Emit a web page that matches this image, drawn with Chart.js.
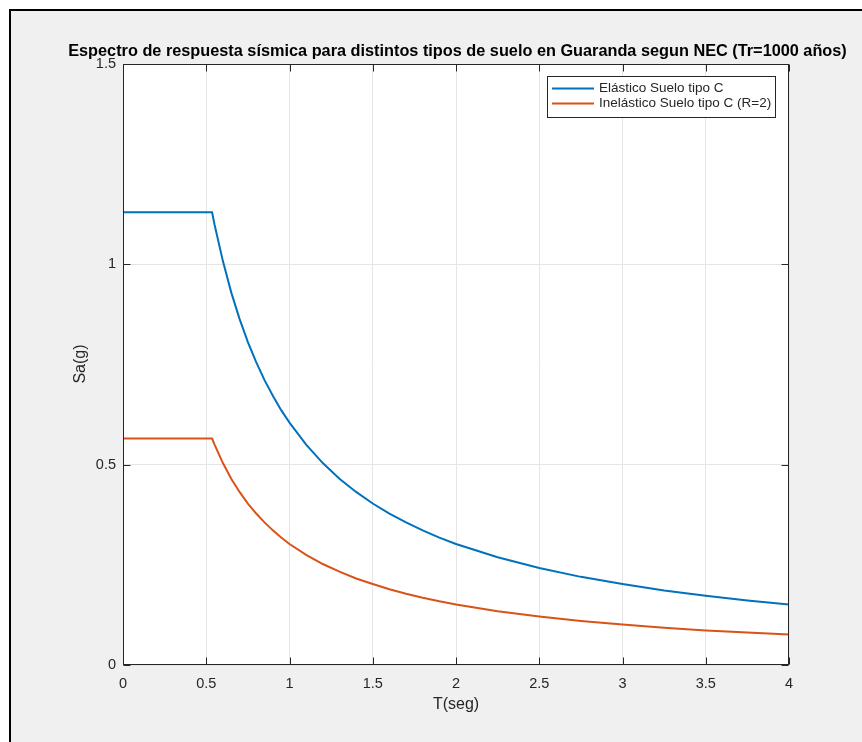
<!DOCTYPE html>
<html>
<head>
<meta charset="utf-8">
<script src="https://cdn.jsdelivr.net/npm/chart.js@4/dist/chart.umd.min.js"></script>
<style>
  html, body { margin: 0; padding: 0; background: #ffffff; }
  #frame { position: absolute; left: 9px; top: 9px; width: 851px; height: 731px;
           border-left: 2px solid #000; border-top: 2px solid #000; background: #f0f0f0; }
  #wrap { position: absolute; left: 0; top: 0; width: 862px; height: 742px; }
</style>
</head>
<body>
<div id="frame"></div>
<div id="wrap"><canvas id="c" width="862" height="742"></canvas></div>
<script>
// ---- Data ----
const titleText = 'Espectro de respuesta sísmica para distintos tipos de suelo en Guaranda segun NEC (Tr=1000 años)';
const xLabel = 'T(seg)';
const yLabel = 'Sa(g)';
const seriesNames = ['Elástico Suelo tipo C', 'Inelástico Suelo tipo C (R=2)'];
const periods = [0, 0.535, 0.55, 0.60, 0.65, 0.70, 0.75, 0.80, 0.85, 0.90, 0.95, 1.00,
                 1.1, 1.2, 1.3, 1.4, 1.5, 1.6, 1.7, 1.8, 1.9, 2.0,
                 2.25, 2.5, 2.75, 3.0, 3.25, 3.5, 3.75, 4.0];
const elastic = [1.13, 1.13, 1.099, 1.008, 0.930, 0.864, 0.806, 0.756, 0.711, 0.672, 0.636, 0.605,
                 0.550, 0.504, 0.465, 0.432, 0.403, 0.378, 0.356, 0.336, 0.318, 0.302,
                 0.269, 0.242, 0.220, 0.202, 0.186, 0.173, 0.161, 0.151];
const inelastic = [0.565, 0.565, 0.550, 0.504, 0.465, 0.432, 0.403, 0.378, 0.356, 0.336, 0.318, 0.302,
                   0.275, 0.252, 0.233, 0.216, 0.202, 0.189, 0.178, 0.168, 0.159, 0.151,
                   0.134, 0.121, 0.110, 0.101, 0.093, 0.086, 0.081, 0.076];
const xTicks = [0, 0.5, 1, 1.5, 2, 2.5, 3, 3.5, 4];
const yTicks = [0, 0.5, 1, 1.5];
const colors = ['#0072BD', '#D95319'];

const FONT = '"Liberation Sans", Arial, sans-serif';
const AX = '#262626';

const frameAndLegend = {
  id: 'frameAndLegend',
  beforeDraw(chart) {
    const {ctx, chartArea: a} = chart;
    ctx.save();
    ctx.fillStyle = '#ffffff';
    ctx.fillRect(a.left, a.top, a.right - a.left, a.bottom - a.top);
    ctx.restore();
  },
  afterDraw(chart) {
    const {ctx, chartArea: a, scales} = chart;
    ctx.save();
    // axes box
    ctx.strokeStyle = AX;
    ctx.lineWidth = 1;
    const L = Math.round(a.left) + 0.5, R = Math.round(a.right) - 0.5;
    const T = Math.round(a.top) + 0.5, B = Math.round(a.bottom) - 0.5;
    ctx.strokeRect(L, T, R - L, B - T);
    // inward ticks
    ctx.beginPath();
    xTicks.forEach(v => {
      const px = Math.round(scales.x.getPixelForValue(v)) + 0.5;
      ctx.moveTo(px, B); ctx.lineTo(px, B - 7);
      ctx.moveTo(px, T); ctx.lineTo(px, T + 7);
    });
    yTicks.forEach(v => {
      const py = Math.round(scales.y.getPixelForValue(v)) + 0.5;
      ctx.moveTo(L, py); ctx.lineTo(L + 7, py);
      ctx.moveTo(R, py); ctx.lineTo(R - 7, py);
    });
    ctx.stroke();
    // title
    ctx.fillStyle = '#000';
    ctx.font = 'bold 16.3px ' + FONT;
    ctx.textAlign = 'center';
    ctx.textBaseline = 'alphabetic';
    ctx.fillText(titleText, 457.5, 56);
    // axis labels
    ctx.fillStyle = AX;
    ctx.font = '16px ' + FONT;
    ctx.textBaseline = 'middle';
    ctx.fillText(xLabel, (a.left + a.right) / 2, 705);
    ctx.save();
    ctx.translate(81, 364);
    ctx.rotate(-Math.PI / 2);
    ctx.fillText(yLabel, 0, 0);
    ctx.restore();
    // legend
    const bx = 547.5, by = 76.5, bw = 228, bh = 41;
    ctx.fillStyle = '#ffffff';
    ctx.fillRect(bx, by, bw, bh);
    ctx.strokeStyle = AX;
    ctx.strokeRect(bx, by, bw, bh);
    ctx.font = '13.5px ' + FONT;
    ctx.textAlign = 'left';
    chart.data.datasets.forEach((ds, i) => {
      const y = 88.5 + i * 15;
      ctx.strokeStyle = ds.borderColor;
      ctx.lineWidth = 2;
      ctx.beginPath(); ctx.moveTo(552, y); ctx.lineTo(594, y); ctx.stroke();
      ctx.fillStyle = AX;
      ctx.fillText(ds.label, 599, y);
    });
    ctx.restore();
  }
};

const toPts = arr => periods.map((t, i) => ({x: t, y: arr[i]}));

new Chart(document.getElementById('c'), {
  type: 'line',
  data: {
    datasets: [
      {label: seriesNames[0], data: toPts(elastic), borderColor: colors[0], borderWidth: 2,
       pointRadius: 0, tension: 0, fill: false},
      {label: seriesNames[1], data: toPts(inelastic), borderColor: colors[1], borderWidth: 2,
       pointRadius: 0, tension: 0, fill: false}
    ]
  },
  options: {
    responsive: false,
    animation: false,
    devicePixelRatio: 1,
    layout: {padding: {top: 64, right: 73, left: 0, bottom: 0}},
    plugins: {legend: {display: false}, title: {display: false}, tooltip: {enabled: false}},
    scales: {
      x: {
        type: 'linear', min: 0, max: 4,
        afterFit(s) { s.height = 77; },
        afterBuildTicks(s) { s.ticks = xTicks.map(v => ({value: v})); },
        ticks: {color: AX, font: {family: FONT, size: 14.5}, padding: 10, maxRotation: 0,
                callback: v => String(v)},
        grid: {color: '#e5e5e5', drawTicks: false, lineWidth: 1},
        border: {display: false}
      },
      y: {
        type: 'linear', min: 0, max: 1.5,
        afterFit(s) { s.width = 123; },
        afterBuildTicks(s) { s.ticks = yTicks.map(v => ({value: v})); },
        ticks: {color: AX, font: {family: FONT, size: 14.5}, padding: 7,
                callback: v => String(v)},
        grid: {color: '#e5e5e5', drawTicks: false, lineWidth: 1},
        border: {display: false}
      }
    }
  },
  plugins: [frameAndLegend]
});
</script>
</body>
</html>
